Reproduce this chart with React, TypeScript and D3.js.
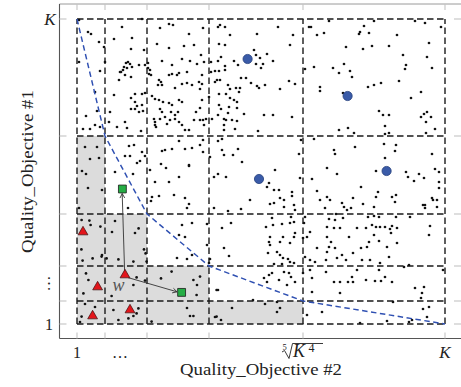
import React from 'react';
import * as d3 from 'd3';

const W = 461;
const H = 387;

// grid positions in objective units (1 ... K)
const gridX = [0, 14, 35, 66, 113, 184];
const gridY = [0, 11.5, 29, 55, 94, 152.5];

const dotsTopLeft: [number, number][] = [
  [1,152],[5.5,146],[7,145],[22.5,148.5],[32.5,152.5],[41.5,148],[46,150],[48,149.5],[56,145],[18.5,142.5],[27.5,143],[40,140],[46,138],[53.5,139],[58.5,139.5],[13.5,138.5],[27,137.5],[33.5,137],[11,141],[1,131],[14,131],[25.5,131],[24.5,130.5],[23.5,128.5],[26.5,130],[27.5,128.5],[25,128],[23,127],[22,126],[31,129.5],[34,129.5],[35.5,128],[36.5,127],[36,125],[37,124.5],[35.5,130.5],[21.5,126],[24,124.5],[27,123.5],[21,122],[11.5,126.5],[42.5,131.5],[47.5,129.5],[52.5,132.5],[56.5,131.5],[46,124.5],[47.5,125],[50,124.5],[51,125.5],[55,126],[41,122],[40.5,119.5],[42,121],[42.5,119.5],[49,118],[52.5,120],[55,120.5],[57.5,119.5],[9,116],[18.5,114.5],[29,115],[32.5,115],[34,115.5],[27,113],[29,111],[30,109],[32.5,109.5],[37.5,114],[39,112.5],[41,112],[43,111],[46,110.5],[47.5,109.5],[51,112],[52.5,111],[10,106.5],[16.5,106],[27,107.5],[29,107.5],[31,106],[33,106.5],[41.5,107.5],[42.5,106],[47,106],[49,104.5],[50.5,106],[59.5,106],[4.5,104],[9,99.5],[16,101],[20,98.5],[24,101],[25,98],[32,96.5],[38.5,102.5],[39,101],[39,99.5],[39.5,98.5],[41.5,102.5],[44,103.5],[46.5,102],[45,100],[49,102.5],[51,101],[52.5,99.5],[54,97],[56,97],[58.5,102],[6.5,97.5],[3,97.5],[11.5,98.5],[4,88.5],[10,88.5],[6.5,82.5],[11,83],[26,89],[28.5,89.5],[32.5,86],[34,84],[31.5,81.5],[30,80.5],[24,84],[26.5,84],[42.5,86.5],[44,87],[47.5,87.5],[51,91.5],[54,87.5],[57.5,88],[42,80],[56,79.5]
];

const dotsTopMid: [number, number][] = [
  [63,148],[70.5,148.5],[71.5,149.5],[74,148.5],[76.5,144.5],[90,145],[100.5,148.5],[108,144.5],[106.5,139.5],[71,140],[74,139.5],[62,134.5],[72,133.5],[70.5,131.5],[67,131],[63.5,131],[60,130],[88.5,137],[89.5,134.5],[91.5,133],[95,135],[98,131.5],[89.5,130],[93,130],[92,128],[78.5,131.5],[80.5,129.5],[74,129],[74,127],[71,126.5],[69,126.5],[67,126],[62.5,124.5],[61,121],[62.5,120],[82,123],[84.5,123],[70,122],[71.5,122],[69,121],[87,120.5],[90,119],[91,118],[94,119.5],[106,121.5],[109,120],[101.5,117.5],[75.5,119.5],[79.5,118],[81.5,118],[76.5,117.5],[81,116],[61.5,117.5],[71,115],[74.5,115],[76.5,113],[78.5,112],[80,111],[66,113.5],[62.5,112],[71,109.5],[72,107.5],[76,108.5],[80,108],[61.5,108],[75.5,105.5],[83.5,105],[93.5,104.5],[98,104.5],[107.5,103.5],[70.5,104.5],[73.5,102.5],[74.5,102],[77.5,102],[80,101.5],[61.5,102],[63,102],[64.5,102.5],[63.5,99.5],[67.5,102.5],[73.5,99.5],[73.5,97],[79,97.5],[90.5,96.5],[63,92],[70.5,91.5],[72.5,92.5],[61.5,89.5],[63,86],[72.5,87],[73.5,84.5],[78,84.5],[80.5,87.5],[66.5,83.5],[82.5,81],[111,85],[112,92],[118.5,92.5],[116,148.5],[117,148.5],[120,144.5],[118.5,128.5],[114,127.5],[121.5,118.5],[121.5,116.5]
];

const dotsTopRight: [number, number][] = [
  [126,151.5],[148.5,151.5],[169,151.5],[174,150.5],[182,148.5],[123.5,145.5],[143.5,149],[141,145],[141.5,146],[146,145.5],[160,144.5],[176,140.5],[134.5,138.5],[143,137.5],[147.5,139],[156,139],[163,134.5],[175,133.5],[133.5,130],[128,128],[131,125.5],[136.5,126.5],[137.5,123.5],[164.5,129.5],[164,127.5],[177.5,128],[161,121.5],[145.5,118.5],[148.5,119.5],[152,120.5],[133,115.5],[172,116],[167,113],[151,106.5],[153,104.5],[156,104.5],[172,103.5],[173.5,105],[175,106],[177,103.5],[174.5,101],[154,99],[131,97],[135.5,98],[138.5,95.5],[154,95],[156,95.5],[174.5,95.5],[179,97.5],[128.5,87],[129,85],[139,88.5],[153.5,90],[159.5,89.5],[159,86.5],[154,83],[177.5,85]
];

const dotsBottomLeft: [number, number][] = [
  [2.5,76.5],[4.5,75],[5.5,68],[12.5,67],[1,58],[19,76],[36.5,77],[44.5,78],[51,73.5],[56,79],[28,75],[39,71],[46,71],[37.5,63.5],[41,64],[48.5,64.5],[54,63],[56,60],[55,58],[25.5,58],[37,61.5],[2.3,52],[6.2,51.7],[6.8,49.5],[2.2,37.3],[7.8,32.8],[2.8,31.7],[12.3,33.7],[11.7,48.7],[12.5,34.5],[19,51.5],[29,45.5],[33.5,37.3],[34.3,35.3],[20.7,32.3],[28.2,31.2],[34.8,31.2],[14.8,32.8],[17.5,46],[30.8,47.8],[52.5,49.5],[57.5,50.5],[51,44.5],[54,43.5],[50,33],[55,32.5],[57.5,34.5],[4.5,25.3],[5.7,22],[3.2,15.3],[17.3,14],[29.8,23.3],[28.2,19.5],[34,21.7],[42,22.8],[47.3,26.2],[58.2,22],[61.5,23.7],[59.8,14.5],[60,19.5],[4,10],[9,8.5],[2.3,3.7],[1.5,1],[18.2,7],[20.7,2],[25.7,2.8],[29.8,5.3],[30.7,7.8],[28.2,4],[37.3,1.2],[55,8],[56.5,4],[58.2,4]
];

const dotsBottomMid: [number, number][] = [
  [70.5,75],[68.5,73.5],[74.5,73.5],[99,77],[96,70.5],[95,68.5],[98.5,67],[101,67],[101.5,63],[103.5,62],[107.5,66],[107.5,64],[111.5,73],[117.5,72.5],[120,66.5],[121.5,62],[86.5,62],[96.5,60],[98.5,60.5],[103.5,58.5],[108.5,59.5],[109,57],[68.5,58],[75.5,56.5],[82,57.5],[65,50],[72.5,48],[77,50.5],[97.5,53],[98,49.5],[94.5,48.5],[102.5,50],[106.5,50.5],[108.5,51],[107,53.5],[114,53.5],[113.5,50.5],[116.5,46],[115,43.5],[113,43],[109,45.5],[108.5,43.5],[103,43.5],[101.5,41],[106.5,40.5],[96.5,43.5],[96,41],[96.5,39.5],[95.5,35.5],[100,36],[101.5,34.5],[103,33],[105.5,32.5],[98.5,30],[102.5,30],[106.5,31],[108.5,30.5],[65,39.5],[73.5,38],[76,34],[66.5,32.5],[66,30.5],[116.5,32],[119,31],[120,38],[114,33.5],[69.8,17],[93.5,23],[96,24.5],[97.5,25.5],[101,22],[103.5,26],[106,25.5],[107,23.5],[109,21],[105,19.5],[95,21],[113,25.5],[116.5,27],[117.5,23],[117.5,16],[70.5,17],[88,12],[94,10],[100,11],[101.5,8],[100,6],[77.5,8],[69,3.5],[72,2],[115,4.5],[122.5,6],[69.8,3.7]
];

const dotsBottomRight: [number, number][] = [
  [125,78],[130,75],[149.5,76.5],[164.5,76],[165.5,73.5],[168.5,71.5],[171,75],[173.5,73],[179,77.5],[181,76],[181,71],[181,68],[142,68.5],[150.5,66],[149.5,63.5],[157.5,63.5],[159.5,64.5],[159,61],[177.5,63],[180,62],[173,59.5],[174,58],[125,63.5],[126.5,62],[124,58],[132.5,60.5],[133.5,58.5],[138,63],[137,58],[135,57],[143,60],[148.5,58.5],[129.5,55],[126,52.5],[129,52],[133,53],[145.5,53.5],[148.5,54],[151,53.5],[159.5,53.5],[166.5,53.5],[125,48.5],[128.5,48],[131.5,48],[136,43.5],[140,48],[144.5,48],[147.5,49.5],[149.5,48.5],[151.5,48.5],[154,48.5],[157.5,49],[156.5,47.5],[160,48],[157,45.5],[148.5,44.5],[146,41],[125,43.5],[127,41],[126,38.5],[125,36],[129,38],[132.5,34.5],[138,35.5],[134.5,32],[130,33],[124.5,32],[142,38],[145,38.5],[151,41.5],[155,38.5],[160,40.5],[156,33.5],[142.5,32],[146.5,32],[151.5,30.5],[176.5,49],[176,44.5],[174,59.5],[178,62],[180,58.5],[163.5,28.5],[166,29.5],[140,27],[151,27],[154,23.5],[124.5,26],[128.5,21],[131.5,21],[135.5,21],[138,21],[144.5,22],[149,21.5],[152,21.5],[157.5,21],[137.5,23.5],[131.5,15.5],[169,18],[173.5,18.5],[172.5,15.5],[172,13],[183,27],[158,11],[173,7.5],[175,3.5],[141.5,0.5],[155,1.5],[166,1],[176,8.5],[167.5,2]
];

const bluePoints: [number, number][] = [[85.3,132.5],[135.3,114],[91,72.5],[154.8,76.5]];
const redPoints: [number, number][] = [[3,46],[24,24.5],[10.3,18.5],[7.8,4],[26.5,7]];
const greenPoints: [number, number][] = [[22.7,67.5],[52.3,15.8]];
const arrowFrom: [number, number][] = [[23.8,26.5],[25.5,23.2]];
const arrowTo: [number, number][] = [[22.6,65.2],[50,16.1]];

const xTickLabels = ['1', '…', 'ROOT', 'K'];
const xTickValues = [0, 21.5, 113, 184];
const yLabelMid = (gridY[1] + gridY[2]) / 2;

const FONT = 'Liberation Serif, Times New Roman, Times, serif';

export default function App() {
  const x = d3.scaleLinear().domain([0, 184]).range([77, 445]);
  const y = d3.scaleLinear().domain([0, 152.5]).range([324, 19]);

  const frame = { left: 59.5, right: 462, top: 4, bottom: 338.5 };
  const dots = [...dotsTopLeft, ...dotsTopMid, ...dotsTopRight, ...dotsBottomLeft, ...dotsBottomMid, ...dotsBottomRight];

  const blueLine = d3.line<number>()
    .x((_, i) => x(gridX[i]))
    .y((_, i) => y(gridY[5 - i]))(gridX) || '';

  const tri = d3.symbol().type(d3.symbolTriangle).size(42)() || '';
  const sq = d3.symbol().type(d3.symbolSquare).size(62)() || '';

  const gray = [0, 1, 2, 3].map(i => ({
    x0: x(gridX[i]), x1: x(gridX[i + 1]), y0: y(gridY[4 - i]), y1: y(0)
  }));

  const tickStroke = '#c4c4c4';
  const rc = x(gridX[4]);

  return (
    <svg width={W} height={H} style={{ position: 'absolute', left: 0, top: 0, background: '#fff', fontFamily: FONT }}>
      {/* gray staircase */}
      {gray.map((g, i) => (
        <rect key={i} x={g.x0} y={g.y0} width={g.x1 - g.x0} height={g.y1 - g.y0} fill="#dcdcdc" />
      ))}
      {/* axis frame */}
      <line x1={frame.left} x2={frame.right} y1={frame.top} y2={frame.top} stroke="#9a9a9a" strokeWidth={1} />
      <line x1={frame.left} x2={frame.left} y1={frame.top} y2={frame.bottom} stroke="#555" strokeWidth={1.1} />
      <line x1={frame.left} x2={frame.right} y1={frame.bottom} y2={frame.bottom} stroke="#555" strokeWidth={1.1} />
      {/* ticks */}
      {gridX.map((g, i) => (
        <g key={'tx' + i}>
          <line x1={x(g)} x2={x(g)} y1={frame.bottom} y2={frame.bottom - 6} stroke={tickStroke} strokeWidth={1.1} />
          <line x1={x(g)} x2={x(g)} y1={frame.top} y2={frame.top + 6} stroke={tickStroke} strokeWidth={1.1} />
        </g>
      ))}
      {gridY.map((g, i) => (
        <g key={'ty' + i}>
          <line x1={frame.left} x2={frame.left + 7} y1={y(g)} y2={y(g)} stroke={tickStroke} strokeWidth={1.1} />
          <line x1={frame.right - 8} x2={frame.right} y1={y(g)} y2={y(g)} stroke={tickStroke} strokeWidth={1.1} />
        </g>
      ))}
      {/* dashed grid */}
      {gridX.map((g, i) => (
        <line key={'gx' + i} x1={x(g)} x2={x(g)} y1={y(0)} y2={y(152.5)} stroke="#1a1a1a" strokeWidth={1.4} strokeDasharray="6.5 3.5" />
      ))}
      {gridY.map((g, i) => (
        <line key={'gy' + i} x1={x(0)} x2={x(184)} y1={y(g)} y2={y(g)} stroke="#1a1a1a" strokeWidth={1.4} strokeDasharray="6.5 3.5" />
      ))}
      {/* dots */}
      {dots.map((d, i) => (
        <circle key={'d' + i} cx={x(d[0])} cy={y(d[1])} r={1.35} fill="#111" />
      ))}
      {/* blue dashed front */}
      <path d={blueLine} fill="none" stroke="#2f50b2" strokeWidth={1.45} strokeDasharray="5.5 3.5" />
      {/* arrows */}
      {arrowFrom.map((f, i) => {
        const t = arrowTo[i];
        const x1 = x(f[0]), y1 = y(f[1]), x2 = x(t[0]), y2 = y(t[1]);
        const a = Math.atan2(y2 - y1, x2 - x1);
        const L = 5, s = 0.5;
        const p1 = [x2 - L * Math.cos(a - s), y2 - L * Math.sin(a - s)];
        const p2 = [x2 - L * Math.cos(a + s), y2 - L * Math.sin(a + s)];
        return (
          <g key={'a' + i} stroke="#333" strokeWidth={0.9} fill="none">
            <line x1={x1} y1={y1} x2={x2} y2={y2} />
            <polyline points={`${p1[0]},${p1[1]} ${x2},${y2} ${p2[0]},${p2[1]}`} />
          </g>
        );
      })}
      {/* markers */}
      {bluePoints.map((p, i) => (
        <circle key={'b' + i} cx={x(p[0])} cy={y(p[1])} r={4.6} fill="#3a5ba8" stroke="#26407c" strokeWidth={0.8} />
      ))}
      {redPoints.map((p, i) => (
        <path key={'r' + i} d={tri} transform={`translate(${x(p[0])},${y(p[1])})`} fill="#e3151b" stroke="#3a1010" strokeWidth={0.7} />
      ))}
      {greenPoints.map((p, i) => (
        <path key={'g' + i} d={sq} transform={`translate(${x(p[0])},${y(p[1])})`} fill="#25ad45" stroke="#1b1b1b" strokeWidth={0.8} />
      ))}
      <text x={x(20.8)} y={y(18.2) + 3.5} fontSize={18} fontStyle="italic" fill="#555" textAnchor="middle">w</text>

      {/* x tick labels */}
      {xTickLabels.map((lab, i) => {
        if (lab === 'ROOT') return null;
        return (
          <text key={'xl' + i} x={x(xTickValues[i])} y={358} fontSize={lab === 'K' ? 17 : 16} textAnchor="middle" fontStyle={lab === 'K' ? 'italic' : 'normal'} fill="#222">{lab}</text>
        );
      })}
      <g fill="#222">
        <text x={rc - 18.5} y={350} fontSize={8.5} textAnchor="middle">5</text>
        <path d={`M${rc - 21},${352} L${rc - 18.5},${350.5} L${rc - 14},${358.5} L${rc - 10.5},${343.5} L${rc + 20},${343.5}`} fill="none" stroke="#222" strokeWidth={0.9} />
        <text x={rc - 10} y={357} fontSize={18} fontStyle="italic">K</text>
        <text x={rc + 5.5} y={352} fontSize={12}>4</text>
      </g>
      {/* y tick labels */}
      <text x={55.5} y={y(152.5) + 5.5} fontSize={17} fontStyle="italic" textAnchor="end" fill="#222">K</text>
      <text x={53} y={y(0) + 5.5} fontSize={16} textAnchor="end" fill="#222">1</text>
      <text transform={`translate(${47.5},${y(yLabelMid)}) rotate(90)`} fontSize={16} textAnchor="middle" fill="#222">…</text>

      {/* axis titles */}
      <text x={261} y={375} fontSize={16.5} textAnchor="middle" textLength={162} lengthAdjust="spacingAndGlyphs" fill="#222">Quality_Objective #2</text>
      <text transform={`translate(33,171.5) rotate(-90)`} fontSize={16.5} textAnchor="middle" textLength={163} lengthAdjust="spacingAndGlyphs" fill="#222">Quality_Objective #1</text>
    </svg>
  );
}
